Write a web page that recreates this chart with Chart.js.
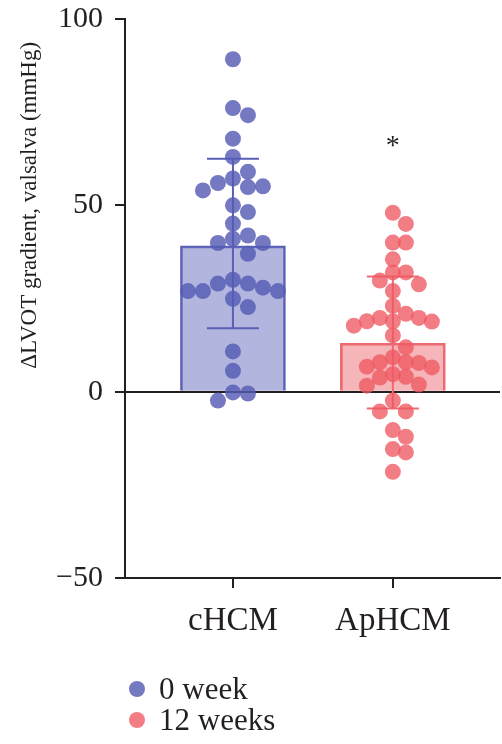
<!DOCTYPE html>
<html>
<head>
<meta charset="utf-8">
<script src="https://cdn.jsdelivr.net/npm/chart.js@4/dist/chart.umd.min.js"></script>
<style>
  html, body { margin: 0; padding: 0; background: #fff; }
  #wrap { position: relative; width: 502px; height: 744px; }
  #chart { position: absolute; left: 0; top: 0; }
  #legend { position: absolute; left: 129px; top: 673px; font-family: "Liberation Serif", "DejaVu Serif", serif; font-size: 31px; color: #231f20; }
  #legend .item { display: flex; align-items: center; height: 31px; }
  #legend .dot { width: 16px; height: 16px; border-radius: 50%; margin-right: 14px; }
</style>
</head>
<body>
<div id="wrap">
  <canvas id="chart" width="502" height="744"></canvas>
  <div id="legend"></div>
</div>
<script>
const categories = ['cHCM', 'ApHCM'];
const seriesLabels = ['0 week', '12 weeks'];
const yTitle = '\u0394LVOT gradient, valsalva (mmHg)';

// individual patients
const cHCMValues = [89.2, 76.1, 74.2, 67.9, 63.0, 59.0, 57.2, 54.0, 55.1, 54.9, 56.0,
  50.0, 48.2, 45.1, 39.9, 39.9, 41.9, 41.0, 37.0, 30.0, 29.0, 29.0, 27.0, 27.9,
  27.0, 27.0, 24.9, 22.7, 10.8, 5.6, -0.5, -0.2, -2.4];
const apHCMValues = [48.0, 45.0, 40.0, 40.0, 35.5, 32.0, 32.0, 29.8, 28.8, 27.0,
  23.0, 19.8, 20.9, 18.8, 18.9, 17.7, 18.9, 19.8, 15.1, 11.9, 6.5, 7.9, 7.9, 9.2,
  7.7, 6.7, 4.0, 4.7, 3.8, 1.6, 1.9, -2.4, -5.3, -5.3, -10.3, -12.1, -15.4, -16.3, -21.5];

const barMeans = [39.1, 13.0];
const errLow = [17.0, -4.5];
const errHigh = [62.5, 30.9];
const yTicks = [-50, 0, 50, 100];
const sigMarks = ['', '*'];

const pointColors = ['rgba(86, 91, 180, 0.82)', 'rgba(238, 88, 98, 0.78)'];
const barFill = ['rgba(120, 124, 196, 0.57)', 'rgba(238, 108, 116, 0.5)'];
const barLine = ['#5a5fb6', '#ee6a72'];
const ink = '#231f20';
const serif = '"Liberation Serif", "DejaVu Serif", serif';

const errorBars = {
    id: 'errorBars',
    afterDatasetDraw(chart, args) {
        if (args.index !== 0) return;
        const { ctx, scales: { x, y } } = chart;
        ctx.save();
        ctx.lineWidth = 2;
        categories.forEach((c, i) => {
            const px = x.getPixelForValue(i);
            const top = y.getPixelForValue(errHigh[i]);
            const bot = y.getPixelForValue(errLow[i]);
            ctx.strokeStyle = barLine[i];
            ctx.beginPath();
            ctx.moveTo(px, top); ctx.lineTo(px, bot);
            ctx.moveTo(px - 26, top); ctx.lineTo(px + 26, top);
            ctx.moveTo(px - 26, bot); ctx.lineTo(px + 26, bot);
            ctx.stroke();
        });
        ctx.restore();
    },
    afterDraw(chart) {
        const { ctx, scales: { x, y } } = chart;
        ctx.save();
        ctx.fillStyle = ink;
        ctx.textAlign = 'center';
        ctx.textBaseline = 'middle';
        ctx.font = '28px ' + serif;
        sigMarks.forEach((m, i) => {
            if (!m) return;
            ctx.fillText(m, x.getPixelForValue(i), y.getPixelForValue(errHigh[i]) - 130);
        });
        // axis title, centred on the positive half of the axis
        ctx.font = '23px ' + serif;
        ctx.translate(30, y.getPixelForValue(50));
        ctx.rotate(-Math.PI / 2);
        ctx.fillText(yTitle, 0, 0);
        ctx.restore();
    }
};

const ctx = document.getElementById('chart').getContext('2d');
const chart = new Chart(ctx, {
    data: {
        datasets: [
            {
                type: 'bar',
                data: categories.map((c, i) => ({ x: i, y: barMeans[i] })),
                backgroundColor: barFill,
                borderColor: barLine,
                borderWidth: 2,
                barThickness: 105,
                order: 2,
            },
            {
                type: 'scatter',
                label: seriesLabels[0],
                data: cHCMValues.map(v => ({ x: 0, y: v })),
                backgroundColor: pointColors[0],
                borderWidth: 0,
                pointRadius: 8,
                order: 0,
            },
            {
                type: 'scatter',
                label: seriesLabels[1],
                data: apHCMValues.map(v => ({ x: 1, y: v })),
                backgroundColor: pointColors[1],
                borderWidth: 0,
                pointRadius: 8,
                order: 0,
            },
        ],
    },
    options: {
        responsive: false,
        animation: false,
        // points would otherwise add 8px of auto padding on every side
        layout: { autoPadding: false, padding: { top: 19, right: 2, bottom: 96, left: 0 } },
        plugins: { legend: { display: false }, tooltip: { enabled: false } },
        scales: {
            x: {
                type: 'linear',
                min: -0.675,
                max: 1.67,
                offset: false,
                afterBuildTicks: (s) => { s.ticks = categories.map((c, i) => ({ value: i })); },
                afterFit: (s) => { s.height = 70; s.paddingLeft = 0; s.paddingRight = 0; },
                ticks: {
                    callback: (v) => categories[v],
                    color: ink,
                    padding: 14,
                    font: { family: serif, size: 33 },
                },
                grid: { offset: false, drawOnChartArea: false, color: ink, lineWidth: 2, tickLength: 10 },
                border: { color: ink, width: 2 },
            },
            y: {
                min: -50,
                max: 100,
                z: 1,
                afterBuildTicks: (s) => { s.ticks = yTicks.map(v => ({ value: v })); },
                afterFit: (s) => { s.width = 125; s.paddingTop = 0; s.paddingBottom = 0; },
                ticks: {
                    callback: (v) => (v < 0 ? '\u2212' + Math.abs(v) : String(v)),
                    color: ink,
                    padding: 12,
                    font: { family: serif, size: 30 },
                },
                grid: {
                    color: (c) => (c.tick && c.tick.value === 0 ? ink : 'rgba(0,0,0,0)'),
                    tickColor: ink,
                    lineWidth: 2,
                    tickLength: 10,
                },
                border: { color: ink, width: 2 },
            },
        },
    },
    plugins: [errorBars],
});

// spread the dots sideways so they don't pile up (simple beeswarm)
function swarm(values, center, step, minDist) {
    const xs = chart.scales.x, ys = chart.scales.y;
    const cx = xs.getPixelForValue(center);
    const placed = [];
    const out = new Array(values.length);
    const idx = values.map((v, i) => i).sort((a, b) => values[b] - values[a]);
    idx.forEach(i => {
        const py = ys.getPixelForValue(values[i]);
        for (let k = 0; k < 40; k++) {
            const px = cx + (k % 2 ? 1 : -1) * Math.ceil(k / 2) * step;
            if (placed.every(p => (p.x - px) ** 2 + (p.y - py) ** 2 >= minDist * minDist)) {
                placed.push({ x: px, y: py });
                out[i] = xs.getValueForPixel(px);
                break;
            }
        }
    });
    return out;
}

const xs0 = swarm(cHCMValues, 0, 15, 15);
const xs1 = swarm(apHCMValues, 1, 13, 13);
chart.data.datasets[1].data = cHCMValues.map((v, i) => ({ x: xs0[i], y: v }));
chart.data.datasets[2].data = apHCMValues.map((v, i) => ({ x: xs1[i], y: v }));
chart.update('none');

document.getElementById('legend').innerHTML = seriesLabels.map((l, i) =>
    `<div class="item"><span class="dot" style="background:${pointColors[i]}"></span>${l}</div>`
).join('');
</script>
</body>
</html>
